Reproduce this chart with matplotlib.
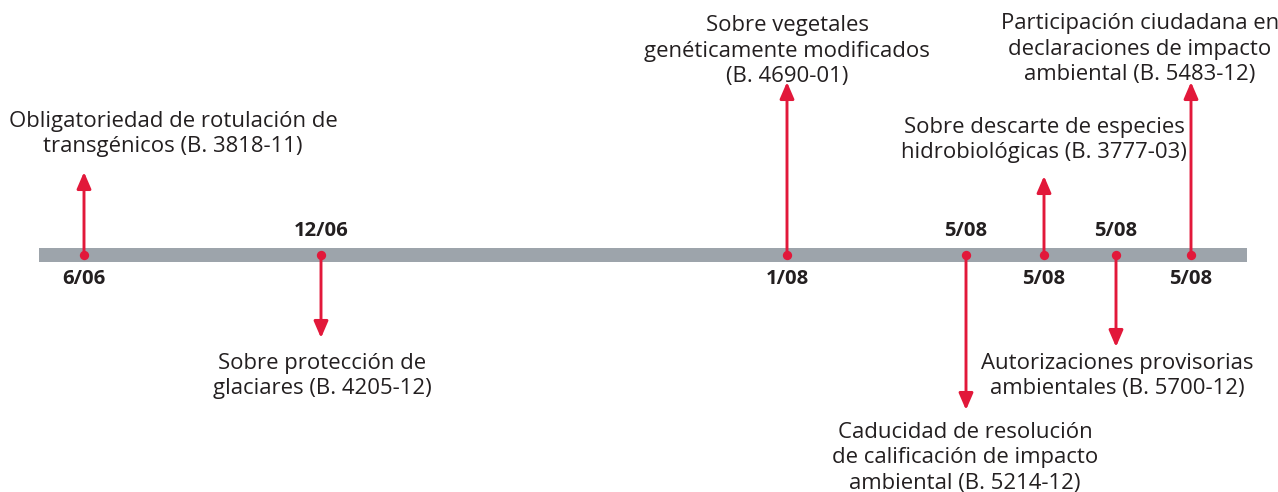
import matplotlib
matplotlib.use("Agg")
import matplotlib.pyplot as plt
from matplotlib.patches import FancyArrowPatch

# ---- data ----
dates = ["6/06", "12/06", "1/08", "5/08", "5/08", "5/08", "5/08"]
positions = [84, 321, 787, 966, 1044, 1116, 1191]          # timeline position
directions = [1, -1, 1, -1, 1, -1, 1]                        # 1 = up, -1 = down
arrow_len = [83, 83, 173, 155, 79, 92, 173]
label_x = [173, 322, 787, 965, 1044, 1117, 1140]
label_y = [134, 376, 51, 458, 140, 376, 49]
labels = [
    "Obligatoriedad de rotulación de\ntransgénicos (B. 3818-11)",
    "Sobre protección de\nglaciares (B. 4205-12)",
    "Sobre vegetales\ngenéticamente modificados\n(B. 4690-01)",
    "Caducidad de resolución\nde calificación de impacto\nambiental (B. 5214-12)",
    "Sobre descarte de especies\nhidrobiológicas (B. 3777-03)",
    "Autorizaciones provisorias\nambientales (B. 5700-12)",
    "Participación ciudadana en\ndeclaraciones de impacto\nambiental (B. 5483-12)",
]
date_side = [-1, 1, -1, 1, -1, 1, -1]   # -1 below, 1 above

RED = "#E2183A"
GRAY = "#9DA4AB"
TXT = "#231F20"

fig = plt.figure(figsize=(12.78, 4.92), dpi=100)
ax = fig.add_axes([0, 0, 1, 1])
ax.set_xlim(0, 1278)
ax.set_ylim(492, 0)
ax.axis("off")

base_y = 255
ax.fill_between([39, 1247], base_y - 7, base_y + 7, color=GRAY, lw=0, zorder=1)

for x, d, L, lx, ly, lab, dt, ds in zip(positions, directions, arrow_len, label_x,
                                         label_y, labels, dates, date_side):
    tip = base_y - d * L
    arr = FancyArrowPatch((x, base_y), (x, tip), arrowstyle="-|>,head_length=1.0,head_width=0.43",
                          mutation_scale=10, color=RED, lw=2.1, shrinkA=0, shrinkB=0, zorder=2)
    ax.add_patch(arr)
    ax.scatter([x], [base_y], s=45, color=RED, zorder=3, lw=0)
    ax.text(lx, ly, lab, ha="center", va="center", fontsize=15.9, color=TXT,
            family="Open Sans", linespacing=1.27)
    dy = base_y - 24 if ds == 1 else base_y + 24
    ax.text(x, dy, dt, ha="center", va="center", fontsize=14.6, fontweight="bold",
            color=TXT, family="Open Sans")

fig.savefig("out.png", dpi=100)
